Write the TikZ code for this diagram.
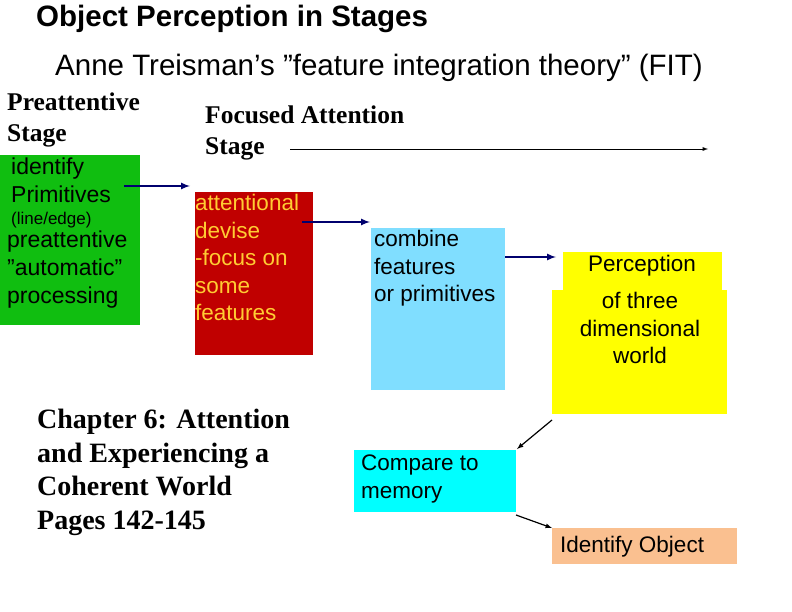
\documentclass[tikz,border=0pt]{standalone}
\usepackage{fontspec}
\setmainfont{Liberation Sans}
\newfontfamily\serifb{Liberation Serif}
\usetikzlibrary{calc}
\definecolor{gbox}{RGB}{16,190,16}
\definecolor{rbox}{RGB}{192,0,0}
\definecolor{bbox}{RGB}{128,222,255}
\definecolor{ybox}{RGB}{255,255,0}
\definecolor{cbox}{RGB}{0,255,255}
\definecolor{pbox}{RGB}{250,192,144}
\definecolor{rtext}{RGB}{255,204,51}
\definecolor{navy}{RGB}{0,0,110}
\tikzset{
 box/.style={anchor=north west,inner sep=0,outer sep=0,draw=none},
 txt/.style={anchor=north west,inner sep=0,align=left,font=\fontsize{22.5}{27.5}\selectfont},
 ctxt/.style={inner sep=0,align=center,font=\fontsize{22.5}{27.5}\selectfont},
 head/.style={anchor=north west,inner sep=0,align=left,font=\serifb\bfseries\fontsize{25.5}{31}\selectfont},
 narrow/.style={-latex,navy,line width=2pt},
 barrow/.style={-latex,black,line width=1.2pt},
}
\begin{document}
\begin{tikzpicture}[x=1pt,y=-1pt]
\useasboundingbox[fill=white] (0,0) rectangle (792,612);
\node[anchor=west,inner sep=0,font=\bfseries\fontsize{29.5}{32}\selectfont] (title) at (36,19) {Object Perception in Stages};
\node[anchor=west,inner sep=0,font=\fontsize{29.5}{32}\selectfont] (sub) at (55,68) {Anne Treisman\char39 s \char34 feature integration theory\char34{} (FIT)};
\node[head] (pre) at (7,93) {Preattentive\\Stage};
\node[head] (foc) at (205,106) {Focused Attention\\Stage};
\coordinate (sa) at (290,149);
\coordinate (se) at (708,149);
\draw[-latex,line width=0.9pt] (sa) -- (se);

\node[box,fill=gbox,minimum width=140,minimum height=170] (g) at (0,155) {};
\node[anchor=north west,inner sep=0,align=left,font=\fontsize{23}{28}\selectfont] (gt) at (11,158)
 {identify\\ Primitives\\[-6pt] {\fontsize{17}{17}\selectfont (line/edge)}};
\node[anchor=north west,inner sep=0,align=left,font=\fontsize{23}{28}\selectfont] (gt2) at (7,231)
 {preattentive\\\char34 automatic\char34\\processing};

\node[box,fill=rbox,minimum width=118,minimum height=163] (r) at (195,192) {};
\node[txt,text=rtext] (rt) at (195,194) {attentional\\devise\\-focus on\\some\\ features};

\node[box,fill=bbox,minimum width=134,minimum height=162] (b) at (371,228) {};
\node[txt] (bt) at (374,230) {combine\\features\\or primitives};

\node[box,fill=ybox,minimum width=159,minimum height=40] (y1) at (563,252) {};
\node[box,fill=ybox,minimum width=175,minimum height=124] (y2) at (552,290) {};
\node[ctxt] (yt1) at (642,266) {Perception};
\node[ctxt,anchor=north] (yt2) at (640,292) {of three\\dimensional\\world};

\node[box,fill=cbox,minimum width=162,minimum height=62] (c) at (354,450) {};
\node[txt] (ct) at (361,455) {Compare to\\memory};

\node[box,fill=pbox,minimum width=185,minimum height=36] (p) at (552,528) {};
\node[txt,anchor=west] (pt) at (560,547) {Identify Object};

\node[anchor=north west,inner sep=0,align=left,font=\serifb\bfseries\fontsize{28}{33.5}\selectfont] (ch) at (37,409)
 {Chapter 6: Attention\\and Experiencing a\\Coherent World\\Pages 142-145};

\draw[narrow] ($(g.north east)+(-16,31)$) -- ($(r.north west)+(-5,-6)$);
\draw[narrow] ($(r.north east)+(-11,30)$) -- ($(b.north west)+(-1,-6)$);
\draw[narrow] ($(b.north east)+(0,29)$) -- ($(y2.north west)+(4,-33)$);
\draw[barrow] ($(y2.south west)+(0,6)$) -- ($(c.north east)+(1,-1)$);
\draw[barrow] ($(c.south east)+(0,3)$) -- ($(p.north west)+(0,0)$);
\end{tikzpicture}
\end{document}
